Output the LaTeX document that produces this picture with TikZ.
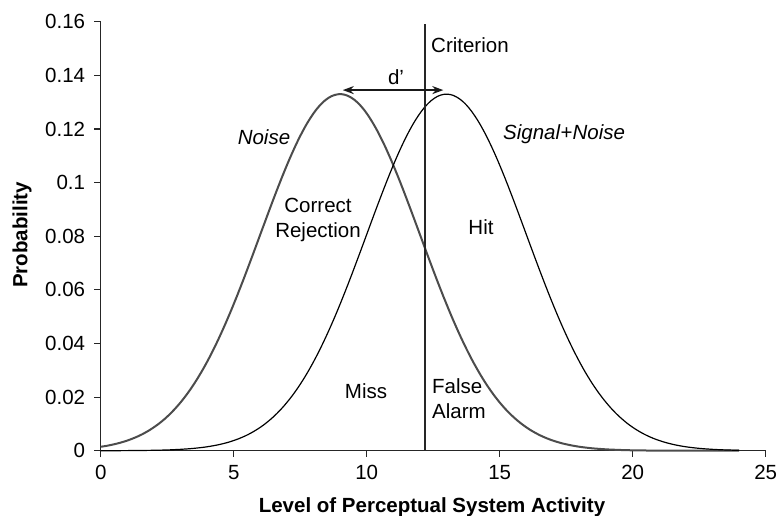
\documentclass[tikz,border=0pt]{standalone}
\usepackage{fontspec}
\setmainfont{Liberation Sans}
\usetikzlibrary{arrows.meta}
\tikzset{
  lbl/.style={inner sep=0pt, font=\fontsize{20.5}{25}\selectfont},
  ticklbl/.style={inner sep=0pt, font=\fontsize{20.5}{25}\selectfont},
  axtitle/.style={inner sep=0pt, font=\fontsize{20.5}{25}\selectfont\bfseries},
  axisline/.style={line width=1.1pt, black!85},
  noisecurve/.style={line width=2pt, black!70},
  signalcurve/.style={line width=1.2pt, black},
  dprime/.style={line width=2.4pt, black!90, {Stealth[length=11pt,width=8pt]}-{Stealth[length=11pt,width=8pt]}},
}
\begin{document}
\begin{tikzpicture}[x=1pt,y=1pt]
\useasboundingbox (0,0) rectangle (779,515);
\begin{scope}[shift={(100.7,64.3)}, x=26.6pt, y=2681pt]
  % axes
  \coordinate (xo) at (0,0);
  \coordinate (xe) at (25,0);
  \coordinate (yt) at (0,0.16);
  \draw[axisline] (xo) -- (xe);
  \draw[axisline] (0,-0.0025) -- (yt);
  \foreach \t in {0,5,...,25} {
    \draw[axisline] (\t,0) -- (\t,-0.0025);
    \node[ticklbl, anchor=base] (xt\t) at (\t,-0.0109) {\t};
  }
  \foreach \v/\s in {0/0,0.02/0.02,0.04/0.04,0.06/0.06,0.08/0.08,0.1/0.1,0.12/0.12,0.14/0.14,0.16/0.16} {
    \draw[axisline] (0,\v) -- (-0.27,\v);
    \node[ticklbl, anchor=east] (yl\s) at (-0.58,\v) {\s};
  }
  % curves
  \draw[noisecurve] plot[domain=0:24, samples=200, smooth] (\x, {0.13298*exp(-((\x-9)*(\x-9))/18)});
  \draw[signalcurve] plot[domain=0:24, samples=200, smooth] (\x, {0.13298*exp(-((\x-13)*(\x-13))/18)});
  % criterion
  \coordinate (cb) at (12.19,0);
  \coordinate (ct) at (12.19,0.1592);
  \draw[line width=1.1pt, black!85] (cb) -- (ct);
  % d'
  \coordinate (dl) at (9.1,0.1345);
  \coordinate (dr) at (12.88,0.1345);
  \draw[dprime] (dl) -- (dr);
\end{scope}
\node[lbl, anchor=west] (crit) at (431,470) {Criterion};
\node[lbl] (dp) at (396,438) {d’};
\node[lbl] (noise) at (264,378) {\itshape Noise};
\node[lbl, anchor=base west] (sn) at (503,375) {\textit{Signal}+\textit{Noise}};
\node[lbl, align=center, anchor=north] (cr) at (318,317) {Correct\\Rejection};
\node[lbl] (hit) at (481,288) {Hit};
\node[lbl] (miss) at (366,124) {Miss};
\node[lbl, align=left, anchor=north west] (fa) at (432,137) {False\\Alarm};
\node[axtitle, rotate=90] (ytitle) at (22,280) {Probability};
\node[axtitle, anchor=base] (xtitle) at (432,3) {Level of Perceptual System Activity};
\end{tikzpicture}
\end{document}
